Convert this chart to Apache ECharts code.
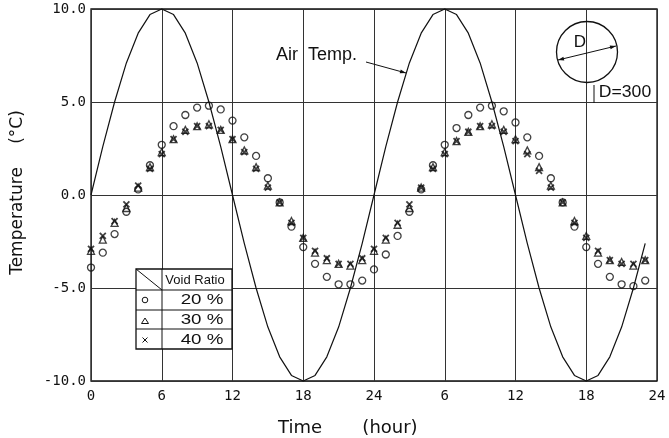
<!DOCTYPE html>
<html>
<head>
<meta charset="utf-8">
<script src="https://cdn.jsdelivr.net/npm/echarts@6/dist/echarts.min.js"></script>
<style>
  html, body { margin: 0; padding: 0; background: #fff; }
  #chart { width: 669px; height: 438px; }
</style>
</head>
<body>
<div id="chart"></div>
<script>
// Elapsed time over two days (hours)
const hours = [
  0, 1, 2, 3, 4, 5, 6, 7, 8, 9, 10, 11,
  12, 13, 14, 15, 16, 17, 18, 19, 20, 21, 22, 23,
  24, 25, 26, 27, 28, 29, 30, 31, 32, 33, 34, 35,
  36, 37, 38, 39, 40, 41, 42, 43, 44, 45, 46, 47
];

// Air temperature (°C), hourly
const airTemp = [
  0.0, 2.6, 5.0, 7.1, 8.7, 9.7, 10.0, 9.7, 8.7, 7.1, 5.0, 2.6,
  0.0, -2.6, -5.0, -7.1, -8.7, -9.7, -10.0, -9.7, -8.7, -7.1, -5.0, -2.6,
  0.0, 2.6, 5.0, 7.1, 8.7, 9.7, 10.0, 9.7, 8.7, 7.1, 5.0, 2.6,
  0.0, -2.6, -5.0, -7.1, -8.7, -9.7, -10.0, -9.7, -8.7, -7.1, -5.0, -2.6
];

// Specimen temperature (°C), void ratio 20 %
const void20 = [
  -3.9, -3.1, -2.1, -0.9, 0.3, 1.6, 2.7, 3.7, 4.3, 4.7, 4.8, 4.6,
  4.0, 3.1, 2.1, 0.9, -0.4, -1.7, -2.8, -3.7, -4.4, -4.8, -4.8, -4.6,
  -4.0, -3.2, -2.2, -0.9, 0.3, 1.6, 2.7, 3.6, 4.3, 4.7, 4.8, 4.5,
  3.9, 3.1, 2.1, 0.9, -0.4, -1.7, -2.8, -3.7, -4.4, -4.8, -4.9, -4.6
];

// void ratio 30 %
const void30 = [
  -3.0, -2.4, -1.5, -0.7, 0.4, 1.5, 2.3, 3.0, 3.5, 3.7, 3.8, 3.5,
  3.0, 2.4, 1.5, 0.5, -0.4, -1.4, -2.3, -3.1, -3.5, -3.7, -3.8, -3.5,
  -3.0, -2.4, -1.6, -0.7, 0.4, 1.5, 2.3, 2.9, 3.4, 3.7, 3.8, 3.5,
  3.0, 2.4, 1.5, 0.5, -0.4, -1.4, -2.2, -3.1, -3.5, -3.6, -3.8, -3.5
];

// void ratio 40 %
const void40 = [
  -2.9, -2.2, -1.4, -0.5, 0.5, 1.4, 2.2, 3.0, 3.4, 3.7, 3.7, 3.5,
  3.0, 2.3, 1.4, 0.4, -0.4, -1.5, -2.3, -3.0, -3.4, -3.7, -3.7, -3.4,
  -2.9, -2.3, -1.5, -0.5, 0.4, 1.4, 2.2, 2.9, 3.4, 3.7, 3.7, 3.4,
  2.9, 2.2, 1.3, 0.4, -0.4, -1.5, -2.3, -3.0, -3.5, -3.7, -3.7, -3.5
];

const xTickLabels = ['0', '6', '12', '18', '24', '6', '12', '18', '24'];
const yTickLabels = ['-10.0', '-5.0', '0.0', '5.0', '10.0'];

const pairs = (vals) => vals.map((v, i) => [hours[i], v]);

const INK = '#111';
const MONO = '"DejaVu Sans Mono", monospace';
const SANS = '"Liberation Sans", Arial, sans-serif';
const TITLE = '"DejaVu Sans", sans-serif';

const chart = echarts.init(document.getElementById('chart'), null, { renderer: 'canvas' });

const hollow = { color: 'rgba(0,0,0,0)', borderColor: INK, borderWidth: 1.3 };

function arrowHead(tipX, tipY, fromX, fromY, len, half) {
  const a = Math.atan2(tipY - fromY, tipX - fromX);
  const bx = tipX - len * Math.cos(a), by = tipY - len * Math.sin(a);
  const px = -Math.sin(a) * half, py = Math.cos(a) * half;
  return {
    type: 'polygon',
    shape: { points: [[tipX, tipY], [bx + px, by + py], [bx - px, by - py]] },
    style: { fill: INK },
    z: 10
  };
}

const graphics = [
  // axis titles
  { type: 'text', x: 18, y: 221, rotation: Math.PI / 2,
    style: { text: 'Temperature', font: '17px ' + TITLE, fill: INK, textAlign: 'center', textVerticalAlign: 'middle' } },
  { type: 'text', x: 18, y: 127, rotation: Math.PI / 2,
    style: { text: '(°C)', font: '17px ' + TITLE, fill: INK, textAlign: 'center', textVerticalAlign: 'middle' } },
  { type: 'text', x: 300, y: 428,
    style: { text: 'Time', font: '18px ' + TITLE, fill: INK, textAlign: 'center', textVerticalAlign: 'middle' } },
  { type: 'text', x: 390, y: 428,
    style: { text: '(hour)', font: '18px ' + TITLE, fill: INK, textAlign: 'center', textVerticalAlign: 'middle' } },

  // air temperature callout
  { type: 'text', x: 276, y: 55,
    style: { text: 'Air  Temp.', font: '18px ' + SANS, fill: INK, textAlign: 'left', textVerticalAlign: 'middle' }, z: 10 },
  { type: 'line', shape: { x1: 366, y1: 62, x2: 406, y2: 73 }, style: { stroke: INK, lineWidth: 1 }, z: 10 },
  arrowHead(406, 73, 366, 62, 6, 2),

  // specimen diameter sketch
  { type: 'circle', shape: { cx: 587, cy: 52, r: 30.5 }, style: { fill: 'rgba(0,0,0,0)', stroke: INK, lineWidth: 1.3 }, z: 10 },
  { type: 'line', shape: { x1: 558, y1: 60, x2: 616, y2: 46 }, style: { stroke: INK, lineWidth: 1 }, z: 10 },
  arrowHead(558, 60, 616, 46, 6, 2),
  arrowHead(616, 46, 558, 60, 6, 2),
  { type: 'text', x: 580, y: 42,
    style: { text: 'D', font: '17px ' + SANS, fill: INK, textAlign: 'center', textVerticalAlign: 'middle' }, z: 10 },
  { type: 'line', shape: { x1: 594, y1: 85, x2: 594, y2: 103 }, style: { stroke: INK, lineWidth: 1 }, z: 10 },
  { type: 'text', x: 625, y: 93, scaleX: 1.1,
    style: { text: 'D=300', font: '16px ' + SANS, fill: INK, textAlign: 'center', textVerticalAlign: 'middle' }, z: 10 },

  // void ratio key
  { type: 'rect', shape: { x: 136, y: 269, width: 96, height: 80 }, style: { fill: '#fff', stroke: INK, lineWidth: 1.3 }, z: 10 },
  { type: 'line', shape: { x1: 162, y1: 269, x2: 162, y2: 349 }, style: { stroke: INK, lineWidth: 1 }, z: 11 },
  { type: 'line', shape: { x1: 136, y1: 290, x2: 232, y2: 290 }, style: { stroke: INK, lineWidth: 1.2 }, z: 11 },
  { type: 'line', shape: { x1: 136, y1: 310, x2: 232, y2: 310 }, style: { stroke: INK, lineWidth: 1 }, z: 11 },
  { type: 'line', shape: { x1: 136, y1: 329, x2: 232, y2: 329 }, style: { stroke: INK, lineWidth: 1 }, z: 11 },
  { type: 'line', shape: { x1: 136, y1: 269, x2: 162, y2: 290 }, style: { stroke: INK, lineWidth: 1 }, z: 11 },
  { type: 'text', x: 195, y: 280,
    style: { text: 'Void Ratio', font: '13px ' + SANS, fill: INK, textAlign: 'center', textVerticalAlign: 'middle' }, z: 11 },
  { type: 'circle', shape: { cx: 145, cy: 300, r: 2.8 }, style: { fill: 'rgba(0,0,0,0)', stroke: INK, lineWidth: 1 }, z: 11 },
  { type: 'polygon', shape: { points: [[145, 318], [141.5, 323.5], [148.5, 323.5]] }, style: { fill: 'rgba(0,0,0,0)', stroke: INK, lineWidth: 1 }, z: 11 },
  { type: 'line', shape: { x1: 142.5, y1: 337.5, x2: 147.5, y2: 342.5 }, style: { stroke: INK, lineWidth: 1 }, z: 11 },
  { type: 'line', shape: { x1: 147.5, y1: 337.5, x2: 142.5, y2: 342.5 }, style: { stroke: INK, lineWidth: 1 }, z: 11 },
  { type: 'text', x: 202, y: 300, scaleX: 1.25,
    style: { text: '20 %', font: '15px ' + SANS, fill: INK, textAlign: 'center', textVerticalAlign: 'middle' }, z: 11 },
  { type: 'text', x: 202, y: 320, scaleX: 1.25,
    style: { text: '30 %', font: '15px ' + SANS, fill: INK, textAlign: 'center', textVerticalAlign: 'middle' }, z: 11 },
  { type: 'text', x: 202, y: 340, scaleX: 1.25,
    style: { text: '40 %', font: '15px ' + SANS, fill: INK, textAlign: 'center', textVerticalAlign: 'middle' }, z: 11 }
];

chart.setOption({
  animation: false,
  backgroundColor: '#fff',
  grid: { left: 91, right: 12, top: 9, bottom: 57, containLabel: false, outerBoundsMode: 'none',
          show: true, borderColor: INK, borderWidth: 1.3, backgroundColor: 'transparent' },
  xAxis: {
    type: 'value', min: 0, max: 48, interval: 6,
    axisLine: { show: false },
    axisTick: { show: false },
    splitLine: { show: true, lineStyle: { color: '#333', width: 1 } },
    axisLabel: {
      margin: 8, color: INK, fontFamily: MONO, fontSize: 14,
      formatter: (v) => xTickLabels[Math.round(v / 6)]
    }
  },
  yAxis: {
    type: 'value', min: -10, max: 10, interval: 5,
    axisLine: { show: false },
    axisTick: { show: false },
    splitLine: { show: true, lineStyle: { color: '#333', width: 1 } },
    axisLabel: {
      margin: 5, color: INK, fontFamily: MONO, fontSize: 14,
      formatter: (v) => yTickLabels[Math.round((v + 10) / 5)]
    }
  },
  series: [
    {
      name: 'Air Temp.', type: 'line', data: pairs(airTemp),
      symbol: 'none', smooth: false, clip: false,
      lineStyle: { color: INK, width: 1.2 }, z: 3
    },
    {
      name: '20 %', type: 'scatter', data: pairs(void20), clip: false,
      symbol: 'circle', symbolSize: 7, itemStyle: hollow, z: 4
    },
    {
      name: '30 %', type: 'scatter', data: pairs(void30), clip: false,
      symbol: 'triangle', symbolSize: 7, itemStyle: hollow, z: 4
    },
    {
      name: '40 %', type: 'scatter', data: pairs(void40), clip: false,
      symbol: 'path://M0,0L10,10M10,0L0,10', symbolSize: 6,
      itemStyle: { color: 'rgba(0,0,0,0)', borderColor: INK, borderWidth: 1.8 }, z: 5
    }
  ],
  graphic: graphics
});
</script>
</body>
</html>
